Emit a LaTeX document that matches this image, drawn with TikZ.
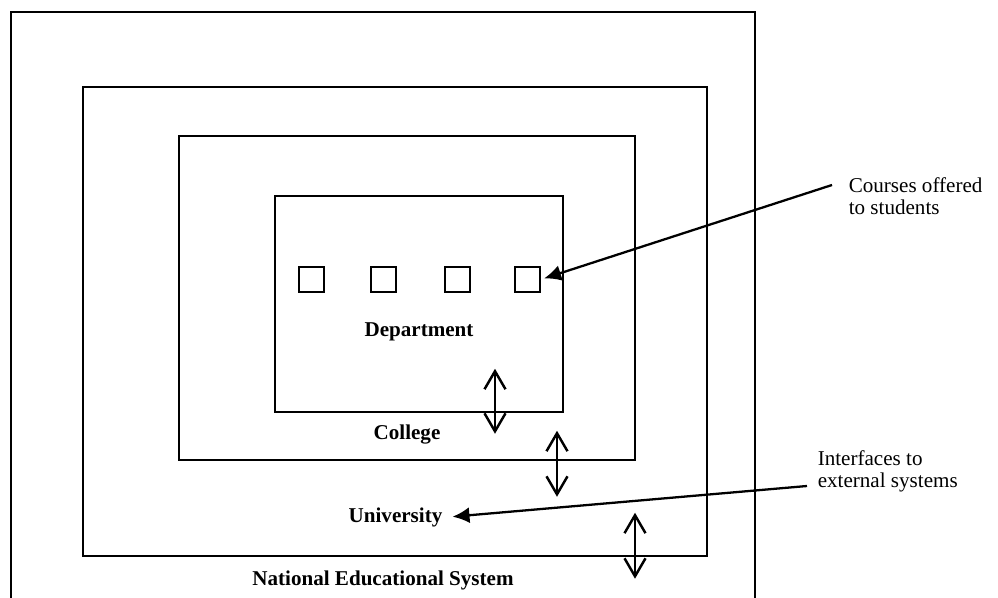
\documentclass[tikz,border=0pt]{standalone}
\usepackage{fontspec}
\setmainfont{Liberation Serif}
\usetikzlibrary{arrows.meta,calc,positioning}

\begin{document}
\begin{tikzpicture}[x=0.02cm, y=-0.02cm, line width=0.9pt, font=\fontsize{12}{12.5}\selectfont]
   \useasboundingbox (0,0) rectangle (998,598);
   % outer level, open at the bottom
   \draw (11,600) |- (755,12) -- (755,600);
   \begin{scope}[every node/.style={draw,rectangle,inner sep=0pt}]
    \node (univ) [minimum width=12.48cm, minimum height=9.38cm] at (395,321.5) {};
    \node (coll) [minimum width=9.12cm, minimum height=6.48cm] at (407,298) {};
    \node (dept) [minimum width=5.76cm, minimum height=4.32cm] at (419,304) {};
    \foreach \x [count=\i] in {311.5,383.5,457.5,527.5}
     \node (c\i) [minimum size=0.5cm] at (\x,279.5) {};
   \end{scope}
   \begin{scope}[every node/.style={font=\fontsize{12}{12.5}\selectfont\bfseries}]
    \node (ldept) at (419,332) {Department};
    \node (lcoll) at (407,435) {College};
    \node (luniv) at (395.5,517) {University};
    \node (lnes) at (383,580) {National Educational System};
   \end{scope}
   \begin{scope}[every node/.style={align=left,anchor=west,inner sep=0pt}]
    \node (courses) at (848,196) {Courses offered\\to students};
    \node (ifaces) at (817,471.5) {Interfaces to\\external systems};
   \end{scope}
   % pointers
   \begin{scope}[-{Latex[length=3.4mm,width=3.2mm]}, line width=1.3pt, shorten >=2pt]
    \draw ($(courses.west)+(-16,-11)$) -- (c4.east);
    \draw ($(ifaces.west)+(-10,14.5)$) -- (luniv.east);
   \end{scope}
   % links between levels
   \begin{scope}[{Straight Barb[length=3.6mm,width=4.2mm]}-{Straight Barb[length=3.6mm,width=4.2mm]}, line width=1.4pt]
    \draw ($(dept.south)+(76,-44)$) -- ++(0,65);
    \draw ($(coll.south)+(150,-30)$) -- ++(0,66);
    \draw ($(univ.south)+(240,-44)$) -- ++(0,66);
   \end{scope}
\end{tikzpicture}
\end{document}
